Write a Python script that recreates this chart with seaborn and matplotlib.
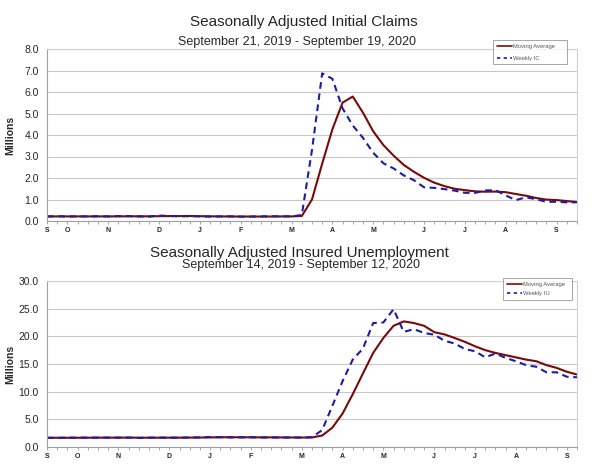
import numpy as np
import pandas as pd
import matplotlib
matplotlib.use("Agg")
import matplotlib.pyplot as plt
import seaborn as sns

# weekly data, millions
ic_dates = pd.date_range("2019-09-21", "2020-09-19", freq="7D")
weekly_ic = [0.213, 0.219, 0.210, 0.214, 0.212, 0.218, 0.211, 0.225, 0.227, 0.213,
             0.203, 0.252, 0.234, 0.222, 0.222, 0.214, 0.204, 0.211, 0.216, 0.202,
             0.205, 0.210, 0.219, 0.216, 0.211, 0.282, 3.307, 6.867, 6.615, 5.237,
             4.442, 3.867, 3.176, 2.687, 2.446, 2.123, 1.897, 1.566, 1.540, 1.482,
             1.413, 1.310, 1.307, 1.422, 1.435, 1.191, 0.971, 1.104, 1.011, 0.893,
             0.893, 0.866, 0.870]
ma_ic = [0.212, 0.214, 0.214, 0.214, 0.214, 0.215, 0.214, 0.217, 0.218, 0.219,
         0.217, 0.224, 0.229, 0.228, 0.233, 0.223, 0.218, 0.213, 0.211, 0.208,
         0.209, 0.208, 0.209, 0.213, 0.214, 0.232, 1.002, 2.667, 4.268, 5.506,
         5.790, 5.040, 4.176, 3.533, 3.044, 2.608, 2.288, 2.008, 1.782, 1.621,
         1.500, 1.436, 1.378, 1.363, 1.369, 1.341, 1.255, 1.175, 1.069, 0.995,
         0.975, 0.926, 0.881]

iu_dates = pd.date_range("2019-09-14", "2020-09-12", freq="7D")
weekly_iu = [1.66, 1.65, 1.69, 1.68, 1.69, 1.69, 1.70, 1.69, 1.70, 1.64,
             1.69, 1.70, 1.69, 1.68, 1.72, 1.73, 1.80, 1.77, 1.74, 1.74,
             1.76, 1.71, 1.73, 1.70, 1.72, 1.70, 1.78, 3.06, 7.45, 11.9,
             15.8, 17.8, 22.4, 22.5, 24.9, 20.8, 21.3, 20.6, 20.3, 19.2,
             18.7, 17.7, 17.3, 16.2, 16.9, 16.1, 15.5, 14.8, 14.5, 13.5,
             13.5, 12.7, 12.6]
ma_iu = [1.67, 1.67, 1.67, 1.67, 1.68, 1.69, 1.69, 1.69, 1.70, 1.68,
         1.68, 1.68, 1.68, 1.69, 1.70, 1.71, 1.73, 1.76, 1.76, 1.76,
         1.75, 1.74, 1.74, 1.73, 1.72, 1.71, 1.73, 2.07, 3.50, 6.05,
         9.55, 13.3, 17.0, 19.7, 21.9, 22.7, 22.4, 21.9, 20.75, 20.35,
         19.7, 19.0, 18.2, 17.5, 17.0, 16.6, 16.2, 15.8, 15.5, 14.8,
         14.3, 13.6, 13.1]

RED = "#7a0a0a"
BLUE = "#1c1ca4"

sns.set_style("white")
plt.rcParams["font.family"] = ["Liberation Sans", "DejaVu Sans"]

fig = plt.figure(figsize=(6, 4.76), dpi=100)


def draw(ax, dates, weekly, ma, weekly_name, ymax, ystep):
    n = len(dates)
    df = pd.DataFrame({"week": np.arange(n), "Moving Average": ma, weekly_name: weekly})
    long = df.melt(id_vars="week", var_name="series", value_name="value")
    sns.lineplot(data=long, x="week", y="value", hue="series", style="series",
                 palette={"Moving Average": RED, weekly_name: BLUE},
                 dashes={"Moving Average": "", weekly_name: (3.2, 2.2)},
                 linewidth=1.5, ax=ax, legend=False)
    ax.set_xlim(0, n - 1)
    ax.set_ylim(0, ymax)
    ax.set_yticks(np.arange(0, ymax + 0.01, ystep))
    ax.set_yticklabels([f"{v:.1f}" for v in np.arange(0, ymax + 0.01, ystep)], fontsize=7.5)
    ax.yaxis.grid(True, color="#c8c8c8", linewidth=0.8)
    # month letters at the first week of each month
    months = pd.Series(dates.month)
    pos = [0] + [i for i in range(1, n) if months[i] != months[i - 1]]
    ax.set_xticks(pos)
    ax.set_xticklabels([dates[i].strftime("%B")[0] for i in pos], fontsize=5, fontweight="bold")
    ax.set_xticks(np.arange(n), minor=True)
    ax.tick_params(axis="x", which="both", direction="out", length=2, width=0.6,
                   color="#999999", pad=2, bottom=True)
    ax.tick_params(axis="y", length=0, pad=6)
    ax.set_xlabel("")
    ax.set_ylabel("Millions", fontsize=7.5, fontweight="bold")
    ax.yaxis.set_label_coords(-32 / 530, 0.5)
    for s in ["left", "bottom"]:
        ax.spines[s].set_color("#a0a0a0")
    for s in ["top", "right"]:
        ax.spines[s].set_color("#d0d0d0")
    for s in ax.spines.values():
        s.set_linewidth(0.8)
    h = [plt.Line2D([], [], color=RED, lw=1.2),
         plt.Line2D([], [], color=BLUE, lw=1.2, ls=(0, (2, 2)))]
    return h


ax1 = fig.add_axes([47 / 600, 1 - 221 / 476, 530 / 600, 172 / 476])
h1 = draw(ax1, ic_dates, weekly_ic, ma_ic, "Weekly IC", 8, 1)
ax2 = fig.add_axes([47 / 600, 1 - 447 / 476, 530 / 600, 166 / 476])
h2 = draw(ax2, iu_dates, weekly_iu, ma_iu, "Weekly IU", 30, 5)

fig.text(304 / 600, 1 - 22 / 476, "Seasonally Adjusted Initial Claims",
         ha="center", va="center", fontsize=11)
fig.text(297 / 600, 1 - 42 / 476, "September 21, 2019 - September 19, 2020",
         ha="center", va="center", fontsize=9)
fig.text(299 / 600, 1 - 253 / 476, "Seasonally Adjusted Insured Unemployment",
         ha="center", va="center", fontsize=11)
fig.text(301 / 600, 1 - 265 / 476, "September 14, 2019 - September 12, 2020",
         ha="center", va="center", fontsize=9)

for ax, h, labs, x0, y0, x1, y1 in [
        (ax1, h1, ["Moving Average", "Weekly IC"], 493, 13, 567, 40),
        (ax2, h2, ["Moving Average", "Weekly IU"], 503, 256, 572, 278)]:
    leg = fig.legend(h, labs, loc="upper left",
                     bbox_to_anchor=(x0 / 600, 1 - y0 / 476, (x1 - x0) / 600, -(y1 - y0) / 476),
                     mode="expand", fontsize=4.2, frameon=True, fancybox=False,
                     handlelength=2.6, handletextpad=0.3, labelspacing=1.2 if ax is ax1 else 0.8,
                     borderpad=0.6, borderaxespad=0)
    leg.get_frame().set_edgecolor("#909090")
    leg.get_frame().set_linewidth(0.7)
    for t in leg.get_texts():
        t.set_color("#555555")

fig.savefig("out.png", dpi=100)
